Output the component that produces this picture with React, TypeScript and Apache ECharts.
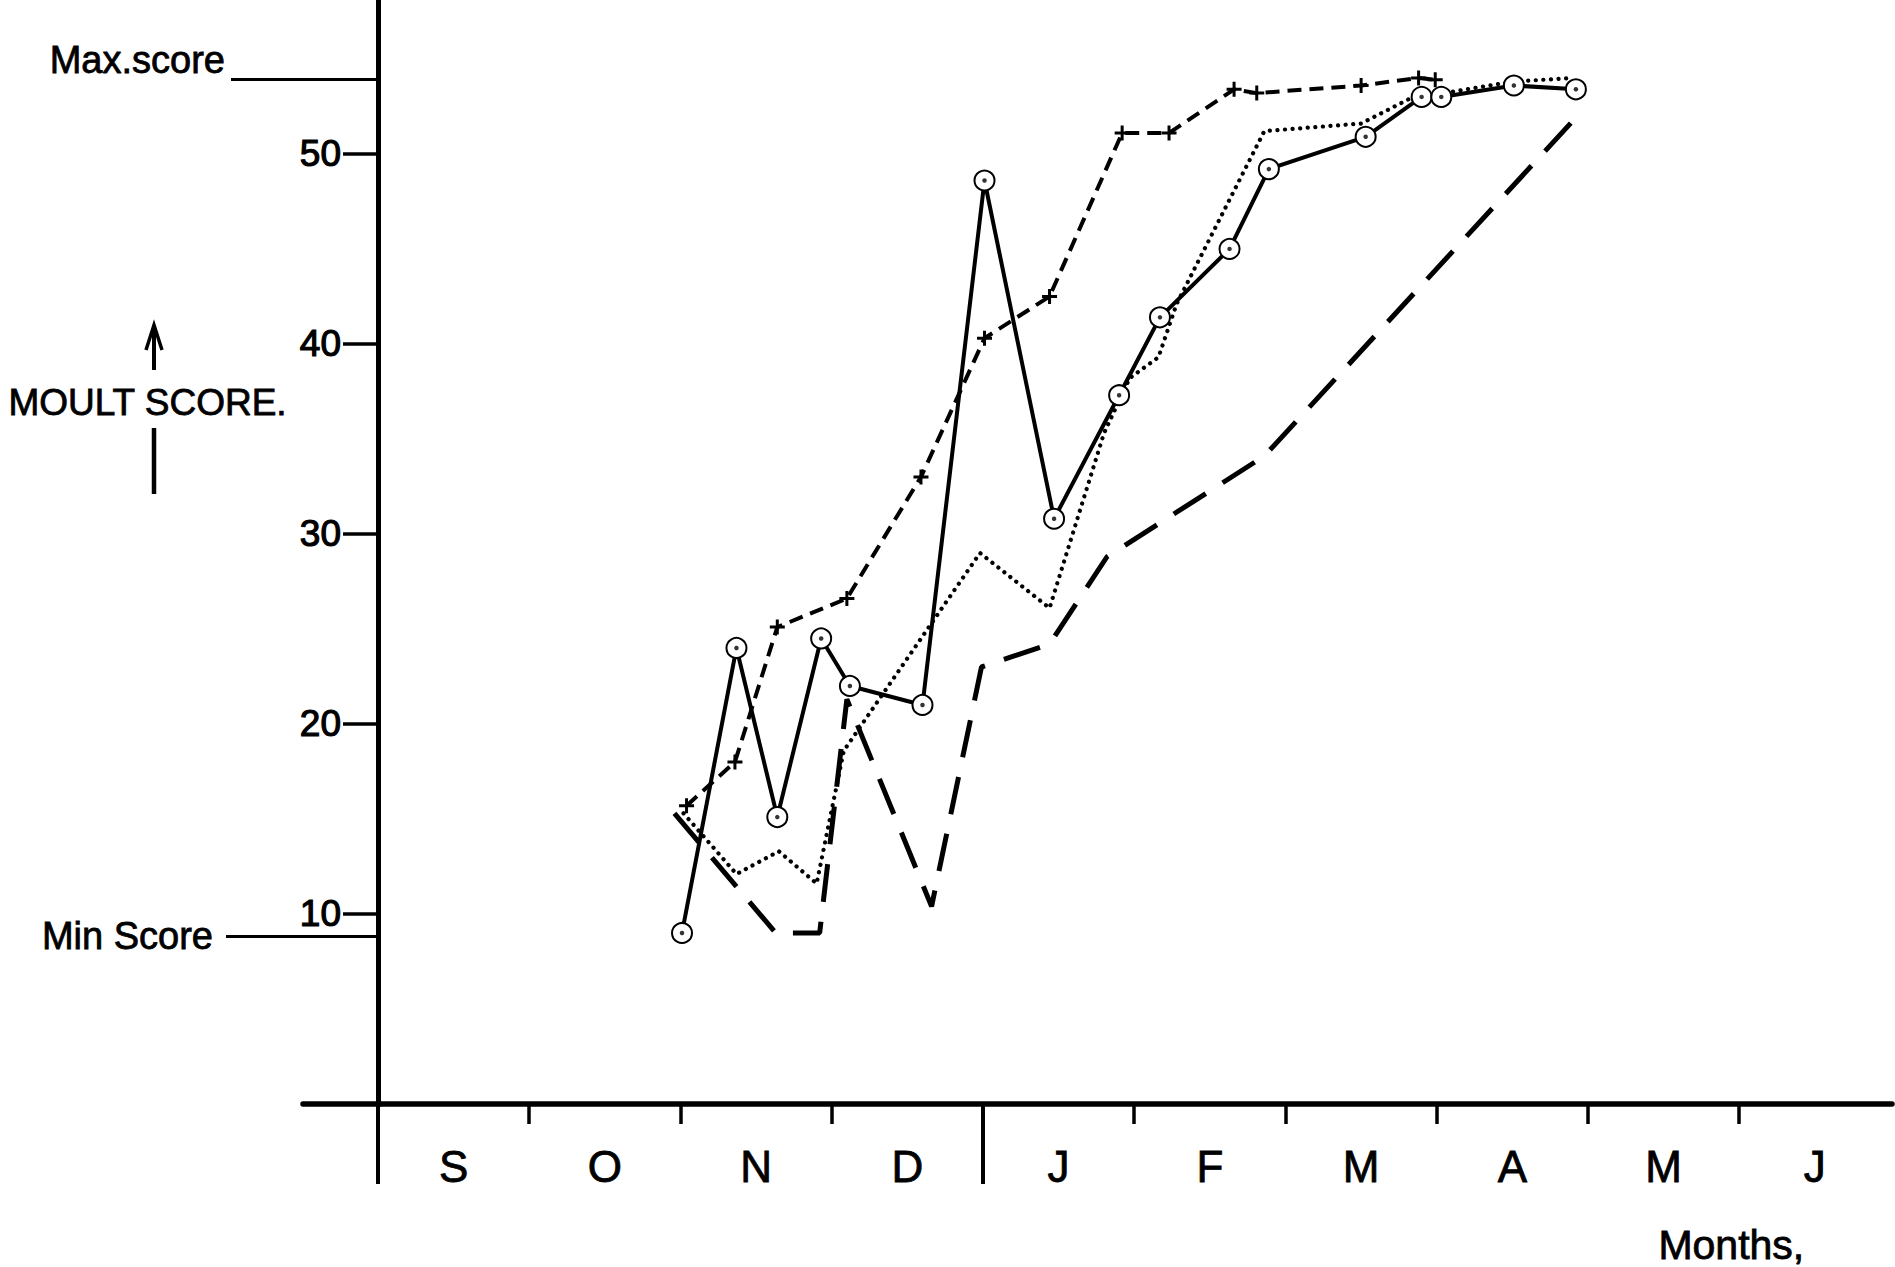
import React, { useEffect, useRef } from 'react';
import * as echarts from 'echarts';

// Time axis: months from 1 September (0) to the end of June (10).
const monthLabels = ['S', 'O', 'N', 'D', 'J', 'F', 'M', 'A', 'M', 'J'];
const monthCentres = [0.5, 1.5, 2.5, 3.5, 4.5, 5.5, 6.5, 7.5, 8.5, 9.5];
const monthBoundaries = [1, 2, 3, 4, 5, 6, 7, 8, 9];
const yearDivider = [0, 4];

// Moult score axis.
const scoreTicks = [10, 20, 30, 40, 50];
const maxScore = 53.95;
const minScore = 8.85;

// [months since 1 Sep, moult score]
const circleSeries: [number, number][] = [
  [2.01, 9.0], [2.37, 24.0], [2.64, 15.1], [2.93, 24.5], [3.12, 22.0],
  [3.6, 21.0], [4.01, 48.6], [4.47, 30.8], [4.9, 37.3], [5.17, 41.4],
  [5.63, 45.0], [5.89, 49.2], [6.53, 50.9], [6.9, 53.0], [7.03, 53.0],
  [7.51, 53.6], [7.92, 53.4],
];

const crossSeries: [number, number][] = [
  [2.04, 15.7], [2.36, 18.0], [2.64, 25.1], [3.1, 26.6], [3.59, 33.0],
  [4.01, 40.3], [4.44, 42.5], [4.92, 51.1], [5.23, 51.1], [5.66, 53.4],
  [5.81, 53.2], [6.5, 53.6], [6.88, 54.0], [6.99, 53.9],
];

const dottedSeries: [number, number][] = [
  [2.02, 15.3], [2.37, 12.1], [2.65, 13.3], [2.9, 11.6], [3.08, 18.6],
  [3.98, 29.0], [4.44, 26.1], [4.8, 35.3], [4.97, 38.2], [5.16, 39.3],
  [5.28, 42.1], [5.86, 51.2], [6.5, 51.6], [6.82, 52.9], [7.5, 53.8],
  [7.9, 54.0],
];

const longDashSeries: [number, number][] = [
  [1.96, 15.3], [2.63, 9.0], [2.92, 9.0], [3.1, 21.3], [3.66, 10.4],
  [3.99, 23.0], [4.44, 24.2], [4.82, 28.8], [5.86, 34.1], [7.93, 52.0],
];

const FONT = "'Liberation Sans', Arial, sans-serif";
const INK = '#000';
const X_MAX = 10.01;
const Y_MAX = 58.1;

const plusSymbol = 'path://M4,0H6V4H10V6H6V10H4V6H0V4H4Z';

// heavier lettering: a thin outline in the ink colour
const inkText = { color: INK, fontFamily: FONT, textBorderColor: INK, textBorderWidth: 0.8 };

const hiddenValueAxis = (gridIndex: number) => ({
  type: 'value',
  gridIndex,
  min: 0,
  max: 1,
  show: false,
});

export default function App() {
  const ref = useRef<HTMLDivElement>(null);

  useEffect(() => {
    if (!ref.current) return;
    const chart = echarts.init(ref.current, null, { renderer: 'svg' });

    const scoreAxisBase = {
      type: 'value',
      gridIndex: 0,
      min: 0,
      max: Y_MAX,
      position: 'left',
      splitLine: { show: false },
    };

    const option: any = {
      animation: false,
      backgroundColor: '#fff',
      grid: [
        {
          left: 378,
          right: 3,
          top: 0,
          bottom: 163,
          containLabel: false,
          outerBoundsMode: 'none',
        },
        // short run of the time axis to the left of the score axis
        {
          left: 303,
          width: 77,
          top: 0,
          bottom: 163,
          containLabel: false,
          outerBoundsMode: 'none',
        },
      ],
      xAxis: [
        {
          type: 'value',
          gridIndex: 0,
          min: 0,
          max: X_MAX,
          position: 'bottom',
          axisLine: { onZero: false, lineStyle: { color: INK, width: 5.5, cap: 'round' } },
          splitLine: { show: false },
          axisTick: {
            show: true,
            customValues: monthBoundaries,
            length: 20,
            lineStyle: { color: INK, width: 3.5 },
          },
          axisLabel: {
            ...inkText,
            customValues: monthCentres,
            formatter: (v: number) => monthLabels[Math.floor(v)] ?? '',
            margin: 40,
            fontSize: 44,
            lineHeight: 44,
          },
        },
        {
          type: 'value',
          gridIndex: 0,
          min: 0,
          max: X_MAX,
          position: 'bottom',
          axisLine: { show: false, onZero: false },
          splitLine: { show: false },
          axisTick: {
            show: true,
            customValues: yearDivider,
            length: 80,
            lineStyle: { color: INK, width: 4 },
          },
          axisLabel: { show: false },
        },
        {
          type: 'value',
          gridIndex: 1,
          min: 0,
          max: 1,
          position: 'bottom',
          axisLine: { onZero: false, lineStyle: { color: INK, width: 5.5 } },
          axisTick: { show: false },
          axisLabel: { show: false },
          splitLine: { show: false },
        },
      ],
      yAxis: [
        {
          ...scoreAxisBase,
          axisLine: { show: true, onZero: false, lineStyle: { color: INK, width: 5 } },
          axisTick: {
            show: true,
            customValues: scoreTicks,
            length: 35,
            lineStyle: { color: INK, width: 3.5 },
          },
          axisLabel: {
            ...inkText,
            customValues: scoreTicks,
            margin: 37,
            fontSize: 37,
            textBorderWidth: 1.2,
          },
        },
        {
          ...scoreAxisBase,
          axisLine: { show: false, onZero: false },
          axisTick: {
            show: true,
            customValues: [maxScore],
            length: 147,
            lineStyle: { color: INK, width: 3 },
          },
          axisLabel: {
            ...inkText,
            customValues: [maxScore],
            formatter: () => 'Max.score',
            margin: 153,
            fontSize: 38,
            lineHeight: 38,
            verticalAlign: 'bottom',
          },
        },
        {
          ...scoreAxisBase,
          axisLine: { show: false, onZero: false },
          axisTick: {
            show: true,
            customValues: [minScore],
            length: 152,
            lineStyle: { color: INK, width: 3 },
          },
          axisLabel: {
            ...inkText,
            customValues: [minScore],
            formatter: () => 'Min Score',
            margin: 165,
            fontSize: 38,
            verticalAlign: 'middle',
          },
        },
        hiddenValueAxis(1),
      ],
      series: [
        {
          type: 'line',
          data: longDashSeries,
          symbol: 'none',
          silent: true,
          z: 2,
          lineStyle: { color: INK, width: 5, type: [38, 20] },
        },
        {
          type: 'line',
          data: dottedSeries,
          symbol: 'none',
          silent: true,
          z: 2,
          lineStyle: { color: INK, width: 4.2, type: [0.1, 7.5], cap: 'round' },
        },
        {
          type: 'line',
          data: crossSeries,
          symbol: plusSymbol,
          symbolSize: 15,
          silent: true,
          z: 3,
          itemStyle: { color: INK },
          lineStyle: { color: INK, width: 4, type: [14, 8] },
        },
        {
          type: 'line',
          data: circleSeries,
          symbol: 'emptyCircle',
          symbolSize: 20,
          silent: true,
          z: 4,
          itemStyle: { color: INK, borderColor: INK, borderWidth: 3.5 },
          lineStyle: { color: INK, width: 4 },
        },
        {
          type: 'scatter',
          data: circleSeries,
          symbol: 'circle',
          symbolSize: 4.5,
          silent: true,
          z: 5,
          itemStyle: { color: INK },
        },
      ],
      graphic: [
        {
          type: 'text',
          left: 8,
          top: 384,
          style: {
            text: 'MOULT SCORE.',
            font: `37px ${FONT}`,
            fill: INK,
            stroke: INK,
            lineWidth: 0.8,
          },
        },
        {
          type: 'line',
          shape: { x1: 154, y1: 326, x2: 154, y2: 370 },
          style: { stroke: INK, lineWidth: 4 },
        },
        {
          type: 'polyline',
          shape: { points: [[146, 350], [154, 325], [162, 350]] },
          style: { stroke: INK, lineWidth: 3.5, fill: 'none' },
        },
        {
          type: 'line',
          shape: { x1: 154, y1: 428, x2: 154, y2: 494 },
          style: { stroke: INK, lineWidth: 4.5 },
        },
        {
          type: 'text',
          left: 1658,
          top: 1224,
          style: {
            text: 'Months,',
            font: `41px ${FONT}`,
            fill: INK,
            stroke: INK,
            lineWidth: 0.8,
          },
        },
      ],
    };

    chart.setOption(option);
    return () => chart.dispose();
  }, []);

  return (
    <div
      ref={ref}
      style={{
        position: 'fixed',
        left: 0,
        top: 0,
        width: 1895,
        height: 1267,
        background: '#fff',
      }}
    />
  );
}
